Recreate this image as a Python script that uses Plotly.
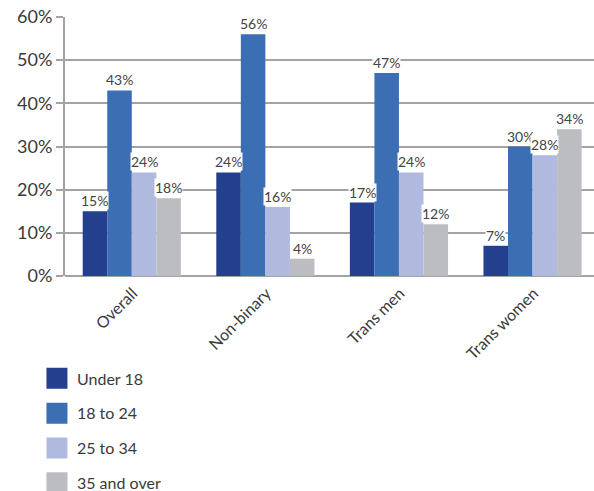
import plotly.graph_objects as go

categories = ["Overall", "Non-binary", "Trans men", "Trans women"]
series_names = ["Under 18", "18 to 24", "25 to 34", "35 and over"]
under_18 = [15, 24, 17, 7]
age_18_24 = [43, 56, 47, 30]
age_25_34 = [24, 16, 24, 28]
age_35_over = [18, 4, 12, 34]
y_ticks = [0, 10, 20, 30, 40, 50, 60]

values = [under_18, age_18_24, age_25_34, age_35_over]
colors = ["#233f8e", "#3c6eb4", "#b0bade", "#bcbdc0"]

BARGAP = 0.265
n = len(series_names)
bar_w = (1 - BARGAP) / n
FONT = "Lato, Open Sans, sans-serif"

fig = go.Figure()
for name, vals, col in zip(series_names, values, colors):
    fig.add_trace(go.Bar(x=categories, y=vals, name=name, marker_color=col,
                         marker_line_width=0, showlegend=False, cliponaxis=False,
                         hoverinfo="skip"))
# legend swatches
for name, col in zip(series_names, colors):
    fig.add_trace(go.Scatter(x=[None], y=[None], mode="markers", name=name,
                             marker=dict(symbol="square", size=16, color=col,
                                         line=dict(color=col, width=5)),
                             legendgroup=name))

annotations = []
for i, vals in enumerate(values):
    for j, v in enumerate(vals):
        annotations.append(dict(
            x=j + (i - (n - 1) / 2) * bar_w, y=v, xref="x", yref="y",
            text=f"{v}%", showarrow=False, yanchor="bottom", yshift=1,
            bgcolor="white", borderpad=0,
            font=dict(family=FONT, size=14, color="#444444")))

fig.update_layout(
    width=594, height=491,
    margin=dict(l=65, r=0, t=17, b=215, autoexpand=False),
    paper_bgcolor="white", plot_bgcolor="white",
    barmode="group", bargap=BARGAP, bargroupgap=0,
    font=dict(family=FONT, color="#3a3a3a"),
    annotations=annotations,
    showlegend=True,
    legend=dict(x=-0.053, y=-0.33, xanchor="left", yanchor="top",
                orientation="v", tracegroupgap=11,
                font=dict(family=FONT, size=16, color="#3a3a3a"),
                itemsizing="trace"),
    xaxis=dict(range=[-0.5, 3.46], tickangle=-45, showgrid=False,
               automargin=False, ticklabelshift=1, ticklabelstandoff=4,
               tickfont=dict(family=FONT, size=16, color="#3a3a3a"),
               showline=False, ticks=""),
    yaxis=dict(range=[0, 60], tickvals=y_ticks, automargin=False,
               ticktext=[f"{t}%" for t in y_ticks],
               showgrid=True, gridcolor="#a3a3a3", gridwidth=2,
               zeroline=True, zerolinecolor="#a3a3a3", zerolinewidth=2,
               showline=True, linecolor="#a3a3a3", linewidth=2,
               ticks="outside", ticklen=7, tickcolor="#a3a3a3", tickwidth=2,
               tickfont=dict(family=FONT, size=18, color="#3a3a3a")),
)

fig.write_html("out.html", config={"displayModeBar": False},
               post_script="document.body.style.margin='0';document.body.style.overflow='hidden';")
